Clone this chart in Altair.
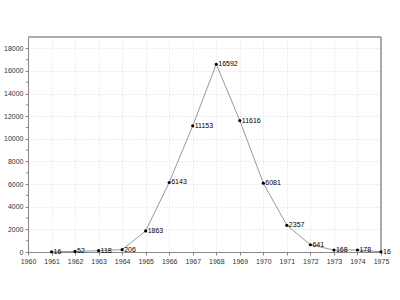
import altair as alt
import pandas as pd

years = [1961, 1962, 1963, 1964, 1965, 1966, 1967, 1968, 1969, 1970, 1971, 1972, 1973, 1974, 1975]
values = [16, 52, 118, 206, 1863, 6143, 11153, 16592, 11616, 6081, 2357, 641, 168, 178, 16]
year_ticks = list(range(1960, 1976))
y_major = list(range(0, 18001, 2000))
y_minor = list(range(1000, 19000, 2000))

df = pd.DataFrame({"year": years, "value": values})

FONT = "Liberation Sans"
W, H = 353, 215
xs = alt.Scale(domain=[1960, 1975], nice=False, zero=False)
ys = alt.Scale(domain=[0, 19000], nice=False)

X = alt.X("year:Q", scale=xs,
          axis=alt.Axis(values=year_ticks, format="d", title=None, labelFont=FONT,
                        labelFontSize=7, labelColor="#333", grid=True, gridDash=[1, 2],
                        gridColor="#dddddd", tickColor="#888", tickSize=3,
                        domainColor="#888", labelPadding=2, labelOverlap=False,
                        labelFlush=False))
Y = alt.Y("value:Q", scale=ys,
          axis=alt.Axis(values=y_major, format="d", title=None, labelFont=FONT,
                        labelFontSize=7, labelColor="#333", grid=True, gridDash=[1, 2],
                        gridColor="#dddddd", tickColor="#888", tickSize=3,
                        domainColor="#888", labelPadding=2, labelOverlap=False,
                        labelFlush=False))

base = alt.Chart(df)

line = base.mark_line(color="#999999", strokeWidth=1).encode(x=X, y=Y)

minor = alt.Chart(pd.DataFrame({"value": y_minor})).mark_rule(color="#888", strokeWidth=1).encode(
    y=Y,
    x=alt.value(-2),
    x2=alt.value(0),
)

frame_right = base.mark_rule(color="#aaaaaa", strokeWidth=1).encode(
    x=alt.value(W), y=alt.value(0), y2=alt.value(H))
frame_top = base.mark_rule(color="#aaaaaa", strokeWidth=1).encode(
    x=alt.value(0), x2=alt.value(W), y=alt.value(0))

pts = base.mark_circle(color="black", size=10, opacity=1).encode(x=X, y=Y)

labels = base.mark_text(align="left", baseline="middle", dx=2, font=FONT, fontSize=7,
                        color="black").encode(x=X, y=Y, text="value:Q")

chart = alt.layer(line, minor, frame_right, frame_top, pts, labels).properties(
    width=W, height=H,
    autosize=alt.AutoSizeParams(type="none"),
    padding={"left": 28, "top": 37, "right": 19, "bottom": 48},
).configure_view(stroke="#aaaaaa", strokeWidth=1).configure(background="white")

chart.save("out.html", embed_options={"renderer": "svg", "actions": False})
